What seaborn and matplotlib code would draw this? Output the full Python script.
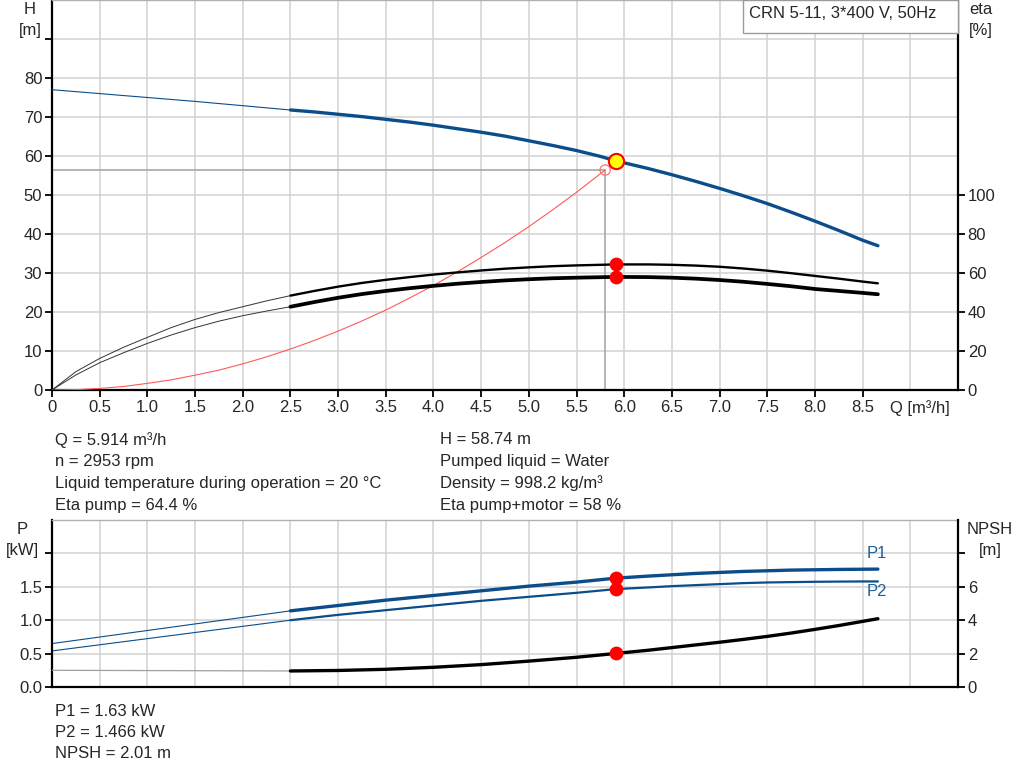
import numpy as np
import pandas as pd
import seaborn as sns
import matplotlib.pyplot as plt
from matplotlib.patches import Rectangle

# Pump curves
q_h = [0, 0.5, 1.0, 1.5, 2.0, 2.5, 2.75, 3.0, 3.25, 3.5, 3.75, 4.0, 4.25, 4.5, 4.75,
       5.0, 5.25, 5.5, 5.75, 5.914, 6.25, 6.5, 6.75, 7.0, 7.25, 7.5, 7.75, 8.0,
       8.25, 8.5, 8.66]
head = [77.0, 76.0, 75.0, 74.0, 72.9, 71.8, 71.3, 70.7, 70.1, 69.4, 68.7, 67.9, 67.0,
        66.1, 65.1, 63.9, 62.7, 61.4, 59.9, 58.74, 56.8, 55.2, 53.5, 51.7, 49.8,
        47.8, 45.6, 43.3, 40.9, 38.4, 37.0]

q_eta = [0, 0.25, 0.5, 0.75, 1.0, 1.25, 1.5, 1.75, 2.0, 2.25, 2.5, 2.75, 3.0, 3.25,
         3.5, 3.75, 4.0, 4.25, 4.5, 4.75, 5.0, 5.25, 5.5, 5.914, 6.25, 6.5, 6.75,
         7.0, 7.25, 7.5, 7.75, 8.0, 8.25, 8.5, 8.66]
eta_pump = [0, 9.4, 16.2, 21.9, 27.0, 32.0, 36.2, 39.7, 42.7, 45.7, 48.4, 50.8, 53.0,
            54.9, 56.5, 57.9, 59.2, 60.3, 61.3, 62.2, 62.9, 63.5, 63.9, 64.4, 64.4,
            64.2, 63.8, 63.2, 62.3, 61.2, 59.9, 58.5, 57.1, 55.6, 54.7]
eta_total = [0, 7.7, 14.0, 19.1, 23.9, 28.2, 32.0, 35.3, 38.1, 40.5, 42.7, 45.1, 47.3,
             49.2, 50.8, 52.2, 53.4, 54.5, 55.4, 56.2, 56.8, 57.3, 57.6, 58.0, 57.9,
             57.6, 57.1, 56.4, 55.5, 54.4, 53.2, 51.8, 50.8, 49.8, 49.1]

q_sys = [0, 0.25, 0.5, 0.75, 1.0, 1.25, 1.5, 1.75, 2.0, 2.25, 2.5, 2.75, 3.0, 3.25,
         3.5, 3.75, 4.0, 4.25, 4.5, 4.75, 5.0, 5.25, 5.5, 5.8]
h_sys = [0, 0.1, 0.4, 0.9, 1.7, 2.6, 3.8, 5.1, 6.7, 8.5, 10.5, 12.7, 15.1, 17.7,
         20.5, 23.6, 26.8, 30.3, 34.0, 37.8, 41.9, 46.2, 50.7, 56.4]

q_p = [0, 2.5, 3.0, 3.5, 4.0, 4.5, 5.0, 5.5, 5.914, 6.25, 6.5, 6.75, 7.0, 7.25, 7.5,
       7.75, 8.0, 8.25, 8.5, 8.66]
p1 = [0.65, 1.14, 1.22, 1.30, 1.37, 1.44, 1.51, 1.57, 1.63, 1.66, 1.68, 1.70, 1.715,
      1.73, 1.74, 1.75, 1.755, 1.76, 1.763, 1.765]
p2 = [0.54, 1.00, 1.08, 1.15, 1.22, 1.29, 1.35, 1.41, 1.466, 1.49, 1.51, 1.525, 1.54,
      1.555, 1.565, 1.57, 1.575, 1.578, 1.58, 1.58]
npsh = [1.0, 0.96, 0.99, 1.06, 1.18, 1.34, 1.55, 1.78, 2.01, 2.2, 2.36, 2.52, 2.68,
        2.85, 3.03, 3.23, 3.45, 3.68, 3.93, 4.09]

# duty point
q_duty = 5.914
h_duty = 58.74
eta_duty = [64.4, 58.0]
p_duty = [1.63, 1.466]
npsh_duty = 2.01
q_req, h_req = 5.8, 56.4

title = "CRN 5-11, 3*400 V, 50Hz"
info_left = ["Q = 5.914 m³/h", "n = 2953 rpm",
             "Liquid temperature during operation = 20 °C", "Eta pump = 64.4 %"]
info_right = ["H = 58.74 m", "Pumped liquid = Water",
              "Density = 998.2 kg/m³", "Eta pump+motor = 58 %"]
info_bottom = ["P1 = 1.63 kW", "P2 = 1.466 kW", "NPSH = 2.01 m"]

x_ticks = np.arange(0, 9.5, 0.5)
x_labels = ["0"] + [f"{v:.1f}" for v in x_ticks[1:-1]] + [""]

BLUE = "#0b4d8b"
GRID = "#d2d2d2"
FS = 12

sns.set_theme(style="whitegrid")
plt.rcParams['font.family'] = ['Liberation Sans', 'DejaVu Sans']
plt.rcParams['axes.edgecolor'] = 'black'

fig = plt.figure(figsize=(10.24, 7.81), dpi=100)
W, H = 1024, 781


def axes_box(left, top, right, bottom):
    return [left / W, 1 - bottom / H, (right - left) / W, (bottom - top) / H]


def split(q, y, cut=2.5):
    df = pd.DataFrame({"q": q, "y": y})
    return df[df.q <= cut], df[df.q >= cut]


def style_axes(ax, ax_r):
    ax.set_facecolor("white")
    ax.set_xlim(0, 9.5)
    ax.grid(True, color=GRID, linewidth=1.1)
    ax.set_xticks(x_ticks)
    for s in ["left", "bottom"]:
        ax.spines[s].set_color("black")
        ax.spines[s].set_linewidth(1.6)
    ax.spines["top"].set_color("#b0b0b0")
    ax.spines["top"].set_linewidth(1.0)
    ax.spines["right"].set_visible(False)
    for s in ["left", "top", "bottom"]:
        ax_r.spines[s].set_visible(False)
    ax_r.spines["right"].set_color("black")
    ax_r.spines["right"].set_linewidth(1.6)
    ax_r.grid(False)
    ax.tick_params(axis="both", direction="out", length=5, width=1.3,
                   color="black", labelsize=FS, pad=2, left=True, bottom=True)
    ax_r.tick_params(axis="y", direction="out", length=5, width=1.3,
                     color="black", labelsize=FS, pad=2, right=True)


# ---------------- top panel: head and efficiency ----------------
ax1 = fig.add_axes(axes_box(52, 0, 958, 390))
ax1r = ax1.twinx()
style_axes(ax1, ax1r)

ax1.set_ylim(0, 100)
ax1.set_yticks(np.arange(0, 100, 10))
ax1.set_yticklabels([str(v) for v in range(0, 90, 10)] + [""])
ax1.set_xticklabels(x_labels)
ax1.xaxis.get_major_ticks()[-1].tick1line.set_visible(False)

ax1r.set_ylim(0, 200)
ax1r.set_yticks(np.arange(0, 101, 20))
ax1r.set_yticklabels([str(v) for v in range(0, 101, 20)])

# required duty reference lines
ax1.plot([0, q_req], [h_req, h_req], color="#a8a8a8", lw=1.2, zorder=2)
ax1.plot([q_req, q_req], [0, h_req], color="#a8a8a8", lw=1.2, zorder=2)

# system curve
sns.lineplot(x=q_sys, y=h_sys, ax=ax1, color="#ff5a5a", linewidth=0.8,
             sort=False, estimator=None, zorder=3)

# head curve
thin, thick = split(q_h, head)
sns.lineplot(data=thin, x="q", y="y", ax=ax1, color=BLUE, linewidth=0.8,
             sort=False, estimator=None, zorder=4)
sns.lineplot(data=thick, x="q", y="y", ax=ax1, color=BLUE, linewidth=2.4,
             sort=False, estimator=None, zorder=4)

# efficiency curves
thin, thick = split(q_eta, eta_pump)
sns.lineplot(data=thin, x="q", y="y", ax=ax1r, color="#333333", linewidth=0.7,
             sort=False, estimator=None)
sns.lineplot(data=thick, x="q", y="y", ax=ax1r, color="black", linewidth=1.7,
             sort=False, estimator=None)
thin, thick = split(q_eta, eta_total)
sns.lineplot(data=thin, x="q", y="y", ax=ax1r, color="#333333", linewidth=0.7,
             sort=False, estimator=None)
sns.lineplot(data=thick, x="q", y="y", ax=ax1r, color="black", linewidth=2.7,
             sort=False, estimator=None)

ax1r.scatter([q_duty] * 2, eta_duty, s=80, color="red", zorder=6)
ax1r.scatter([q_req], [h_req * 2], s=55, facecolor="none", edgecolor="#ff7070",
             linewidth=0.9, zorder=6)
ax1r.scatter([q_duty], [h_duty * 2], s=120, color="#ffff00", edgecolor="red",
             linewidth=1.5, zorder=7)

ax1.set_xlabel("")
ax1.set_ylabel("")
ax1r.set_ylabel("")
ax1.text(9.1, -4.5, "Q [m³/h]", ha="center", va="center", fontsize=FS)

fig.text(30 / W, 1 - 10 / H, "H", ha="center", va="center", fontsize=FS)
fig.text(30 / W, 1 - 30 / H, "[m]", ha="center", va="center", fontsize=FS)
fig.text(981 / W, 1 - 10 / H, "eta", ha="center", va="center", fontsize=FS)
fig.text(981 / W, 1 - 30 / H, "[%]", ha="center", va="center", fontsize=FS)

box = Rectangle((743 / W, 1 - 33 / H), (958 - 743) / W, 33 / H,
                transform=fig.transFigure, facecolor="white",
                edgecolor="#9a9a9a", linewidth=1.0, zorder=10)
fig.patches.append(box)
fig.text(749 / W, 1 - 14 / H, title, ha="left", va="center", fontsize=FS, zorder=11)

# info block
for i, (a, b) in enumerate(zip(info_left, info_right)):
    y = 1 - (440 + i * 21.7) / H
    fig.text(55 / W, y, a, ha="left", va="center", fontsize=FS)
    fig.text(440 / W, y, b, ha="left", va="center", fontsize=FS)

# ---------------- bottom panel: power and NPSH ----------------
ax2 = fig.add_axes(axes_box(52, 520, 958, 687))
ax2r = ax2.twinx()
style_axes(ax2, ax2r)

ax2.set_ylim(0, 2.5)
ax2.set_yticks(np.arange(0, 2.5, 0.5))
ax2.set_yticklabels(["0.0", "0.5", "1.0", "1.5", ""])
ax2.set_xticklabels([])
ax2.tick_params(axis="x", length=0)

ax2r.set_ylim(0, 10)
ax2r.set_yticks(np.arange(0, 10, 2))
ax2r.set_yticklabels(["0", "2", "4", "6", ""])

thin, thick = split(q_p, p1)
sns.lineplot(data=thin, x="q", y="y", ax=ax2, color=BLUE, linewidth=0.8,
             sort=False, estimator=None)
sns.lineplot(data=thick, x="q", y="y", ax=ax2, color=BLUE, linewidth=2.4,
             sort=False, estimator=None)
thin, thick = split(q_p, p2)
sns.lineplot(data=thin, x="q", y="y", ax=ax2, color=BLUE, linewidth=0.8,
             sort=False, estimator=None)
sns.lineplot(data=thick, x="q", y="y", ax=ax2, color=BLUE, linewidth=1.6,
             sort=False, estimator=None)
thin, thick = split(q_p, npsh)
sns.lineplot(data=thin, x="q", y="y", ax=ax2r, color="#a0a0a0", linewidth=0.9,
             sort=False, estimator=None)
sns.lineplot(data=thick, x="q", y="y", ax=ax2r, color="black", linewidth=2.4,
             sort=False, estimator=None)

ax2.scatter([q_duty] * 2, p_duty, s=80, color="red", zorder=6)
ax2r.scatter([q_duty], [npsh_duty], s=80, color="red", zorder=6)

ax2.text(8.65, 2.0, "P1", color="#1f5f96", fontsize=FS, ha="center", va="center")
ax2.text(8.65, 1.43, "P2", color="#1f5f96", fontsize=FS, ha="center", va="center")

for a in (ax2, ax2r):
    a.set_xlabel("")
    a.set_ylabel("")

fig.text(22 / W, 1 - 530 / H, "P", ha="center", va="center", fontsize=FS)
fig.text(22 / W, 1 - 551 / H, "[kW]", ha="center", va="center", fontsize=FS)
fig.text(990 / W, 1 - 530 / H, "NPSH", ha="center", va="center", fontsize=FS)
fig.text(990 / W, 1 - 551 / H, "[m]", ha="center", va="center", fontsize=FS)

for i, t in enumerate(info_bottom):
    fig.text(55 / W, 1 - (711 + i * 21.5) / H, t, ha="left", va="center", fontsize=FS)

fig.savefig("out.png", dpi=100, facecolor="white")
